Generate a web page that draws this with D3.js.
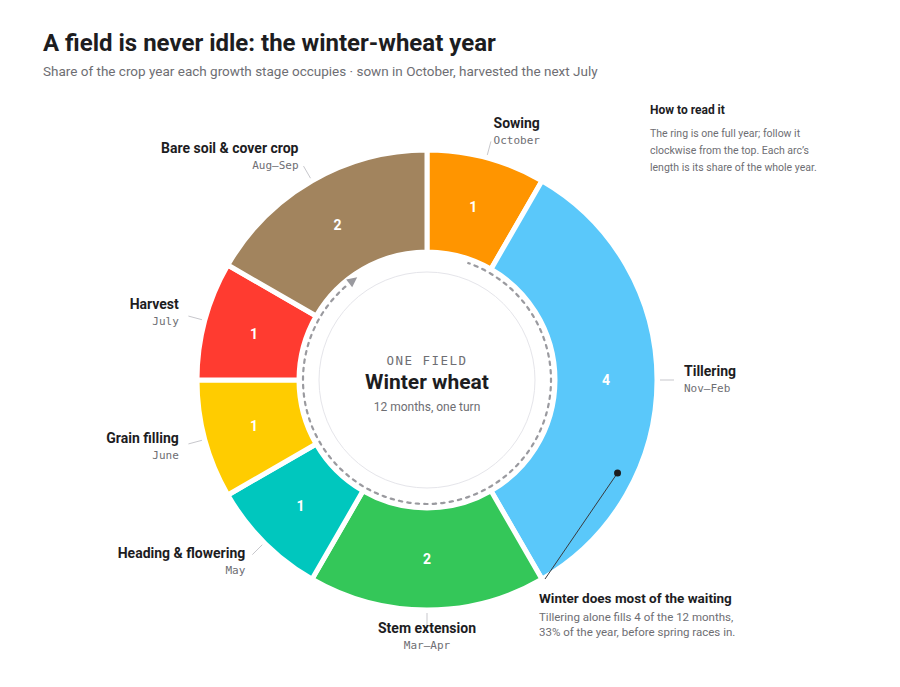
<!DOCTYPE html>
<html><head><meta charset="utf-8">
<script src="https://cdn.jsdelivr.net/npm/d3@7"></script>
<style>body{margin:0;background:#fff;font-family:Roboto,sans-serif}</style>
</head><body><div id="vis"></div>
<script>
// data
const STAGES = ["Sowing", "Tillering", "Stem extension", "Heading & flowering", "Grain filling", "Harvest", "Bare soil & cover crop"];
const MONTHS = ["October", "Nov\u2013Feb", "Mar\u2013Apr", "May", "June", "July", "Aug\u2013Sep"];
const VALUES = [1, 4, 2, 1, 1, 1, 2];
const COLORS = ["#FF9500", "#5AC8FA", "#34C759", "#00C7BE", "#FFCC00", "#FF3B30", "#A2845E"];

const W = 900, H = 687;
const CX = 427, CY = 380, R_OUT = 230, R_IN = 128;

const svg = d3.select("#vis").append("svg").attr("width", W).attr("height", H);

// titles
svg.append("text").attr("x", 43).attr("y", 51).attr("font-size", 24).attr("font-weight", 700)
	.attr("fill", "#1d1d1f").text("A field is never idle: the winter-wheat year");
svg.append("text").attr("x", 43).attr("y", 76).attr("font-size", 13.5).attr("fill", "#6e6e73")
	.text("Share of the crop year each growth stage occupies \u00b7 sown in October, harvested the next July");

const g = svg.append("g").attr("transform", "translate(" + CX + "," + CY + ")");

const data = STAGES.map((s, i) => ({stage: s, months: MONTHS[i], value: VALUES[i], color: COLORS[i]}));
const arcs = d3.pie().value(d => d.value).sort(null)(data);
const arc = d3.arc().innerRadius(R_IN).outerRadius(R_OUT);

g.selectAll(".slice").data(arcs).enter().append("path")
	.attr("d", arc).attr("fill", d => d.data.color)
	.attr("stroke", "#fff").attr("stroke-width", 5).attr("stroke-linejoin", "miter");

// values
const mid = d3.arc().innerRadius(179).outerRadius(179);
g.selectAll(".val").data(arcs).enter().append("text")
	.attr("transform", d => "translate(" + mid.centroid(d) + ")")
	.attr("text-anchor", "middle").attr("dy", "0.35em")
	.attr("font-size", 14).attr("font-weight", 700).attr("fill", "#fff")
	.text(d => d.data.value);

// leaders + labels
const pt = (a, r) => [Math.sin(a) * r, -Math.cos(a) * r];
arcs.forEach(d => {
	const a = (d.startAngle + d.endAngle) / 2;
	const p1 = pt(a, R_OUT + 3), p2 = pt(a, R_OUT + 17), p = pt(a, 257);
	g.append("line").attr("x1", p1[0]).attr("y1", p1[1]).attr("x2", p2[0]).attr("y2", p2[1])
		.attr("stroke", "#c7c7cc").attr("stroke-width", 1);
	let anchor = p[0] > 8 ? "start" : (p[0] < -8 ? "end" : "middle");
	let y = p[1];
	if (anchor == "middle") y += 0;
	g.append("text").attr("x", p[0]).attr("y", y - 4).attr("text-anchor", anchor)
		.attr("font-size", 14).attr("font-weight", 700).attr("fill", "#1d1d1f").text(d.data.stage);
	g.append("text").attr("x", p[0]).attr("y", y + 12).attr("text-anchor", anchor)
		.attr("font-size", 11).attr("font-family", "'DejaVu Sans Mono', monospace").attr("fill", "#6e6e73")
		.text(d.data.months);
});

// inner circle
g.append("circle").attr("r", 108).attr("fill", "none").attr("stroke", "#e5e5ea").attr("stroke-width", 1);

// dotted year arc with arrow
const a0 = 19 * Math.PI / 180, a1 = (360 - 40) * Math.PI / 180;
g.append("path").attr("d", d3.arc().innerRadius(124).outerRadius(124).startAngle(a0).endAngle(a1)())
	.attr("fill", "none").attr("stroke", "#9a9a9f").attr("stroke-width", 2.2).attr("stroke-dasharray", "2.5,6")
	.attr("stroke-linecap", "round");
const ae = (360 - 37) * Math.PI / 180, tip = pt(ae, 124);
g.append("path").attr("d", "M0,-6L5,4L-5,4Z").attr("fill", "#9a9a9f")
	.attr("transform", "translate(" + tip + ") rotate(" + (ae * 180 / Math.PI + 90) + ")");

// center text
g.append("text").attr("y", -15).attr("text-anchor", "middle").attr("font-size", 12.5)
	.attr("font-family", "'DejaVu Sans Mono', monospace").attr("letter-spacing", 1.5).attr("fill", "#6e6e73").text("ONE FIELD");
g.append("text").attr("y", 9).attr("text-anchor", "middle").attr("font-size", 21).attr("font-weight", 700)
	.attr("fill", "#1d1d1f").text("Winter wheat");
g.append("text").attr("y", 31).attr("text-anchor", "middle").attr("font-size", 12)
	.attr("fill", "#6e6e73").text("12 months, one turn");

// annotation
const aa = 116 * Math.PI / 180, dp = pt(aa, 212);
g.append("line").attr("x1", dp[0]).attr("y1", dp[1]).attr("x2", 545 - CX).attr("y2", 579 - CY)
	.attr("stroke", "#3a3a3c").attr("stroke-width", 1);
g.append("circle").attr("cx", dp[0]).attr("cy", dp[1]).attr("r", 3.5).attr("fill", "#1d1d1f");
svg.append("text").attr("x", 539).attr("y", 603).attr("font-size", 13.5).attr("font-weight", 700)
	.attr("fill", "#1d1d1f").text("Winter does most of the waiting");
["Tillering alone fills 4 of the 12 months,", "33% of the year, before spring races in."].forEach((t, i) => {
	svg.append("text").attr("x", 539).attr("y", 621 + i * 15).attr("font-size", 11.5).attr("fill", "#6e6e73").text(t);
});

// how to read
svg.append("text").attr("x", 650).attr("y", 114).attr("font-size", 12).attr("font-weight", 700)
	.attr("fill", "#1d1d1f").text("How to read it");
["The ring is one full year; follow it", "clockwise from the top. Each arc\u2019s", "length is its share of the whole year."].forEach((t, i) => {
	svg.append("text").attr("x", 650).attr("y", 137 + i * 17).attr("font-size", 10.5).attr("fill", "#6e6e73").text(t);
});
</script></body></html>
